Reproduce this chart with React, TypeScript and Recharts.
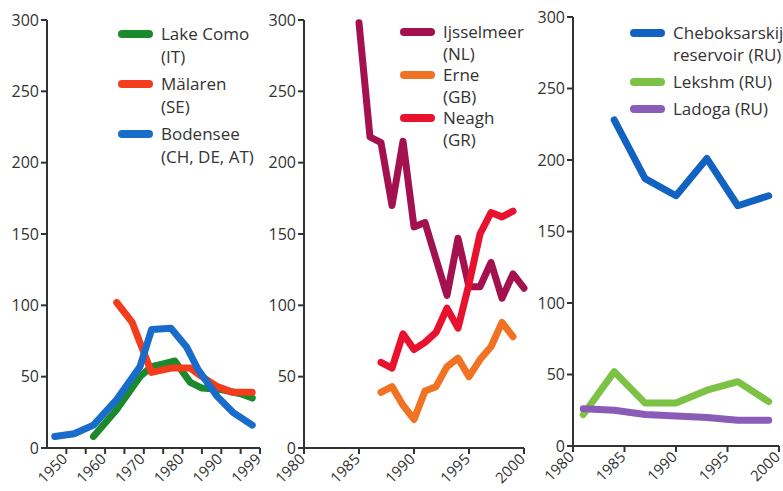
import React from "react";
import { LineChart, Line, XAxis, YAxis } from "recharts";

// panel 1
const comoYears = [1957, 1963, 1969, 1972, 1975, 1978, 1982, 1985, 1990, 1995, 1998];
const comoValues = [8, 27, 50, 57, 59, 61, 46, 42, 41, 38, 35];
const malarenYears = [1963, 1967, 1969, 1972, 1977, 1982, 1985, 1989, 1993, 1998];
const malarenValues = [102, 88, 74, 53, 56, 56, 50, 43, 39, 39];
const bodenseeYears = [1947, 1952, 1957, 1963, 1969, 1972, 1977, 1981, 1984, 1989, 1993, 1998];
const bodenseeValues = [8, 10, 16, 34, 57, 83, 84, 71, 55, 36, 25, 16];

// panel 2
const ijsselYears = [1985, 1986, 1987, 1988, 1989, 1990, 1991, 1993, 1994, 1995, 1996, 1997, 1998, 1999, 2000];
const ijsselValues = [298, 218, 214, 170, 215, 155, 158, 107, 147, 113, 113, 130, 105, 122, 112];
const erneYears = [1987, 1988, 1989, 1990, 1991, 1992, 1993, 1994, 1995, 1996, 1997, 1998, 1999];
const erneValues = [39, 43, 30, 20, 40, 43, 57, 63, 50, 62, 71, 88, 78];
const neaghYears = [1987, 1988, 1989, 1990, 1991, 1992, 1993, 1994, 1995, 1996, 1997, 1998, 1999];
const neaghValues = [60, 56, 80, 69, 74, 81, 98, 84, 115, 150, 165, 162, 166];

// panel 3
const chebYears = [1984, 1987, 1990, 1993, 1996, 1999];
const chebValues = [228, 187, 175, 201, 168, 175];
const lekshmYears = [1981, 1984, 1987, 1990, 1993, 1996, 1999];
const lekshmValues = [22, 52, 30, 30, 39, 45, 31];
const ladogaYears = [1981, 1984, 1987, 1990, 1993, 1996, 1999];
const ladogaValues = [26, 25, 22, 21, 20, 18, 18];

const yTicks = [0, 50, 100, 150, 200, 250, 300];
const xTicks1 = [1950, 1955, 1960, 1965, 1970, 1975, 1980, 1985, 1990, 1995, 2000];
const xLabelAt1 = [1950, 1960, 1970, 1980, 1990, 2000];
const xLabelText1 = ["1950", "1960", "1970", "1980", "1990", "1999"];
const xTicks23 = [1980, 1985, 1990, 1995, 2000];

const FONT = "'Open Sans', sans-serif";
const INK = "#333";

const zip = (years: number[], values: number[]) =>
  years.map((year, i) => ({ year, value: values[i] }));

const makeTick = (labelAt: number[], labelText: string[]) => (props: any) => {
  const { x, y, payload } = props;
  const idx = labelAt.indexOf(payload.value);
  if (idx < 0) return <g />;
  return (
    <text
      x={0}
      y={0}
      transform={`translate(${x + 2},${y + 4}) rotate(-45)`}
      textAnchor="end"
      fontSize={15}
      fontFamily={FONT}
      fill={INK}
    >
      {labelText[idx]}
    </text>
  );
};

interface Series {
  name: string[];
  color: string;
  data: { year: number; value: number }[];
}

interface PanelProps {
  left: number;
  width: number;
  top: number;
  bottom: number;
  yAxisLeft: number;
  plotRight: number;
  domain: [number, number];
  ticks: number[];
  tick: any;
  series: Series[];
  legendLeft: number;
  legendTop: number;
  lineHeight: number;
  gap: number;
}

const Panel = (p: PanelProps) => (
  <div style={{ position: "absolute", left: p.left, top: 0, width: p.width, height: 491 }}>
    <LineChart
      width={p.width}
      height={491}
      margin={{ top: p.top, right: p.width - p.plotRight, left: p.yAxisLeft - 40, bottom: 491 - p.bottom - 40 }}
    >
      <XAxis
        type="number"
        dataKey="year"
        domain={p.domain}
        ticks={p.ticks}
        interval={0}
        height={40}
        tick={p.tick}
        tickSize={6}
        stroke={INK}
        strokeWidth={2}
        allowDuplicatedCategory={false}
      />
      <YAxis
        width={40}
        domain={[0, 300]}
        ticks={yTicks}
        interval={0}
        tickSize={6}
        tickMargin={2}
        stroke={INK}
        strokeWidth={2}
        tick={{ fontSize: 16, fontFamily: FONT, fill: INK }}
      />
      {p.series.map((s) => (
        <Line
          key={s.name.join(" ")}
          data={s.data}
          dataKey="value"
          type="linear"
          stroke={s.color}
          strokeWidth={7}
          strokeLinejoin="round"
          strokeLinecap="round"
          dot={false}
          isAnimationActive={false}
        />
      ))}
    </LineChart>
    <div
      style={{
        position: "absolute",
        left: p.legendLeft,
        top: p.legendTop,
        fontFamily: FONT,
        fontSize: 17,
        color: INK,
        lineHeight: `${p.lineHeight}px`,
      }}
    >
      {p.series.map((s) => (
        <div key={s.name.join(" ")} style={{ display: "flex", marginBottom: p.gap }}>
          <span
            style={{
              display: "inline-block",
              width: 35,
              height: 8,
              borderRadius: 4,
              background: s.color,
              marginTop: p.lineHeight / 2 - 4,
              marginRight: 8,
              flex: "none",
            }}
          />
          <div>
            {s.name.map((line) => (
              <div key={line} style={{ whiteSpace: "nowrap" }}>{line}</div>
            ))}
          </div>
        </div>
      ))}
    </div>
  </div>
);

export default function App() {
  return (
    <div style={{ position: "absolute", left: 0, top: 0, width: 783, height: 491, background: "#fff", overflow: "hidden" }}>
      <Panel
        left={0}
        width={270}
        top={20}
        bottom={448}
        yAxisLeft={47}
        plotRight={260}
        domain={[1945, 2000]}
        ticks={xTicks1}
        tick={makeTick(xLabelAt1, xLabelText1)}
        legendLeft={118}
        legendTop={22}
        lineHeight={23}
        gap={4}
        series={[
          { name: ["Lake Como", "(IT)"], color: "#1c8a2c", data: zip(comoYears, comoValues) },
          { name: ["Mälaren", "(SE)"], color: "#f23c1c", data: zip(malarenYears, malarenValues) },
          { name: ["Bodensee", "(CH, DE, AT)"], color: "#1a6ccb", data: zip(bodenseeYears, bodenseeValues) },
        ]}
      />
      <Panel
        left={260}
        width={275}
        top={20}
        bottom={448}
        yAxisLeft={44}
        plotRight={264}
        domain={[1980, 2000]}
        ticks={xTicks23}
        tick={makeTick(xTicks23, xTicks23.map(String))}
        legendLeft={140}
        legendTop={21}
        lineHeight={21.5}
        gap={0}
        series={[
          { name: ["Ijsselmeer", "(NL)"], color: "#a3124f", data: zip(ijsselYears, ijsselValues) },
          { name: ["Erne", "(GB)"], color: "#f07222", data: zip(erneYears, erneValues) },
          { name: ["Neagh", "(GR)"], color: "#e8122f", data: zip(neaghYears, neaghValues) },
        ]}
      />
      <Panel
        left={530}
        width={253}
        top={17}
        bottom={446}
        yAxisLeft={43}
        plotRight={249}
        domain={[1980, 2000]}
        ticks={xTicks23}
        tick={makeTick(xTicks23, xTicks23.map(String))}
        legendLeft={100}
        legendTop={22}
        lineHeight={22}
        gap={5}
        series={[
          { name: ["Cheboksarskij", "reservoir (RU)"], color: "#1262c2", data: zip(chebYears, chebValues) },
          { name: ["Lekshm (RU)"], color: "#7cc244", data: zip(lekshmYears, lekshmValues) },
          { name: ["Ladoga (RU)"], color: "#8a5cb8", data: zip(ladogaYears, ladogaValues) },
        ]}
      />
    </div>
  );
}
